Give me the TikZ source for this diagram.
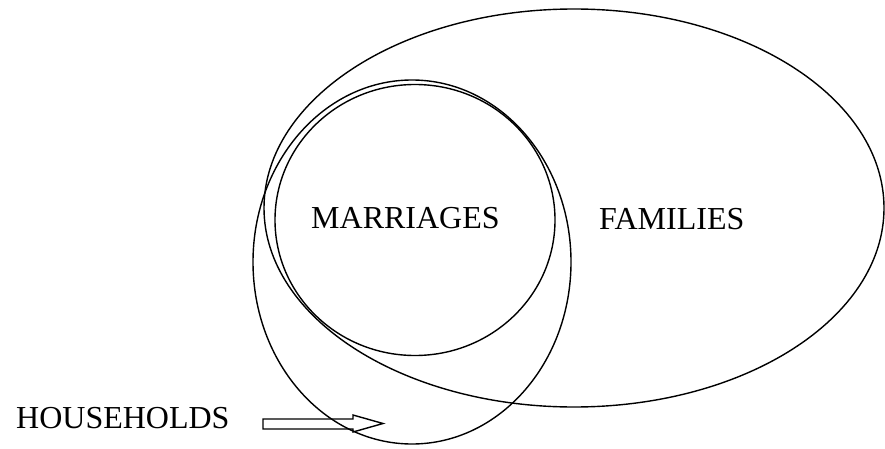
\documentclass[tikz,border=0pt]{standalone}
\usepackage{fontspec}
\setmainfont{Liberation Serif}
\usetikzlibrary{shapes.geometric}
\begin{document}
\begin{tikzpicture}[x=1pt,y=-1pt,
  setshape/.style={ellipse,draw,line width=1.4pt,inner sep=0pt,outer sep=0pt},
  label/.style={anchor=base west,inner sep=0pt,font=\fontsize{32}{36}\selectfont},
  blockarrow/.style={draw,line width=1.4pt,line join=miter}]
\useasboundingbox (0,0) rectangle (885,449);
\node[setshape,minimum width=620pt,minimum height=398pt] (families) at (574,208) {};
\node[setshape,minimum width=318pt,minimum height=364pt] (households) at (412,262) {};
\node[setshape,minimum width=280pt,minimum height=271pt] (marriages) at (415,220) {};
\node[label] (tm) at (311,228) {MARRIAGES};
\node[label] (tf) at (599,229) {FAMILIES};
\node[label] (th) at (16,428) {HOUSEHOLDS};
\coordinate (as) at (263,424);
\coordinate (at) at (383,423.5);
\draw[blockarrow] (as) ++(0,-5) -- ++(90,0) -- ++(0,-4) -- (at) -- (353,432) -- ++(0,-3) -- ++(-90,0) -- cycle;
\end{tikzpicture}
\end{document}
